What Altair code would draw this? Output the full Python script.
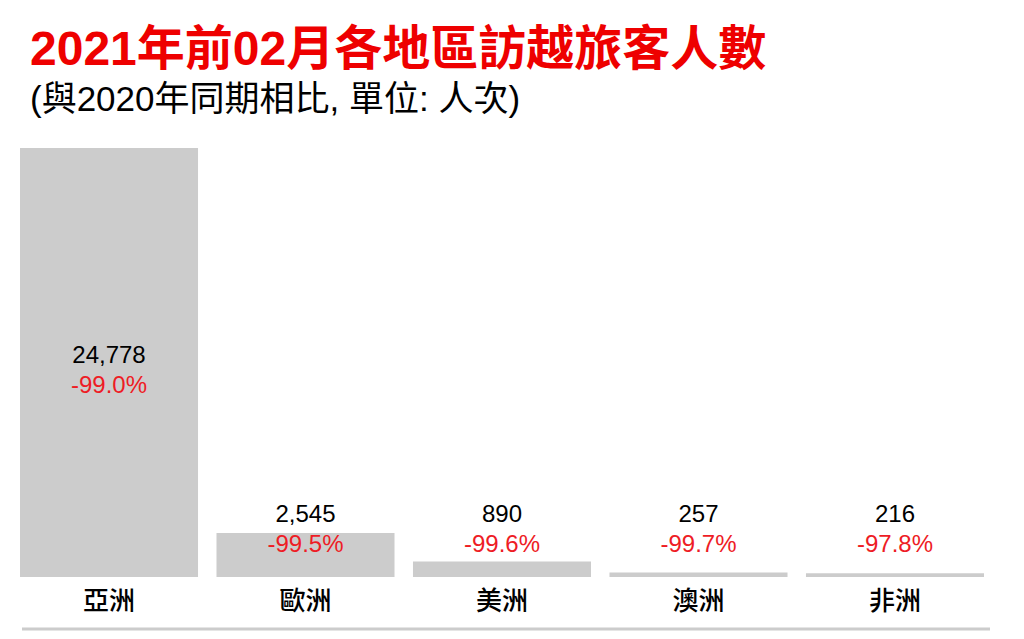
import altair as alt
import pandas as pd

regions = ["亞洲", "歐洲", "美洲", "澳洲", "非洲"]
visitors = [24778, 2545, 890, 257, 216]
change_labels = ["-99.0%", "-99.5%", "-99.6%", "-99.7%", "-97.8%"]

FONT = "Liberation Sans, Arial, Noto Sans CJK TC, sans-serif"

df = pd.DataFrame({
    "region": regions,
    "visitors": visitors,
    "change": change_labels,
})
df["value_label"] = df["visitors"].map("{:,}".format)

base = alt.Chart(df).encode(
    x=alt.X("region:N", sort=regions, title=None,
            scale=alt.Scale(paddingInner=0.094, paddingOuter=0),
            axis=alt.Axis(labelAngle=0, ticks=False, domain=False,
                          labelFontSize=26, labelFont=FONT, labelColor="#000000",
                          labelFontWeight=500, labelPadding=11, labelBaseline="top"))
)

bars = base.mark_bar(color="#CCCCCC").encode(
    y=alt.Y("visitors:Q", axis=None, scale=alt.Scale(domain=[0, 24778], nice=False))
)

# labels sit inside the tall bar, above the short ones
labelled = base.transform_calculate(anchor="max(datum.visitors * 0.48, 2700)")

values = labelled.mark_text(fontSize=24, font=FONT, color="#000000",
                            baseline="middle", dy=-15).encode(
    y=alt.Y("anchor:Q"),
    text="value_label:N",
)

changes = labelled.mark_text(fontSize=24, font=FONT, color="#EE1C25",
                             baseline="middle", dy=15).encode(
    y=alt.Y("anchor:Q"),
    text="change:N",
)

bottom_line = alt.Chart(pd.DataFrame({"a": [0]})).mark_rule(
    color="#CCCCCC", strokeWidth=3
).encode(x=alt.value(2), x2=alt.value(970), y=alt.value(481))

chart = alt.layer(bars, values, changes, bottom_line).properties(
    width=964,
    height=429,
    autosize=alt.AutoSizeParams(type="none"),
    padding={"left": 12, "top": 140, "right": 32, "bottom": 54},
    title=alt.TitleParams(
        text="2021年前02月各地區訪越旅客人數",
        subtitle="(與2020年同期相比, 單位: 人次)",
        anchor="start",
        dx=10,
        offset=30,
        font=FONT,
        fontSize=48,
        fontWeight="bold",
        color="#EE0000",
        subtitleFont=FONT,
        subtitleFontSize=35,
        subtitleColor="#000000",
        subtitlePadding=8,
    ),
).configure_view(stroke=None)

chart.save("out.html", embed_options={"renderer": "svg", "actions": False})
